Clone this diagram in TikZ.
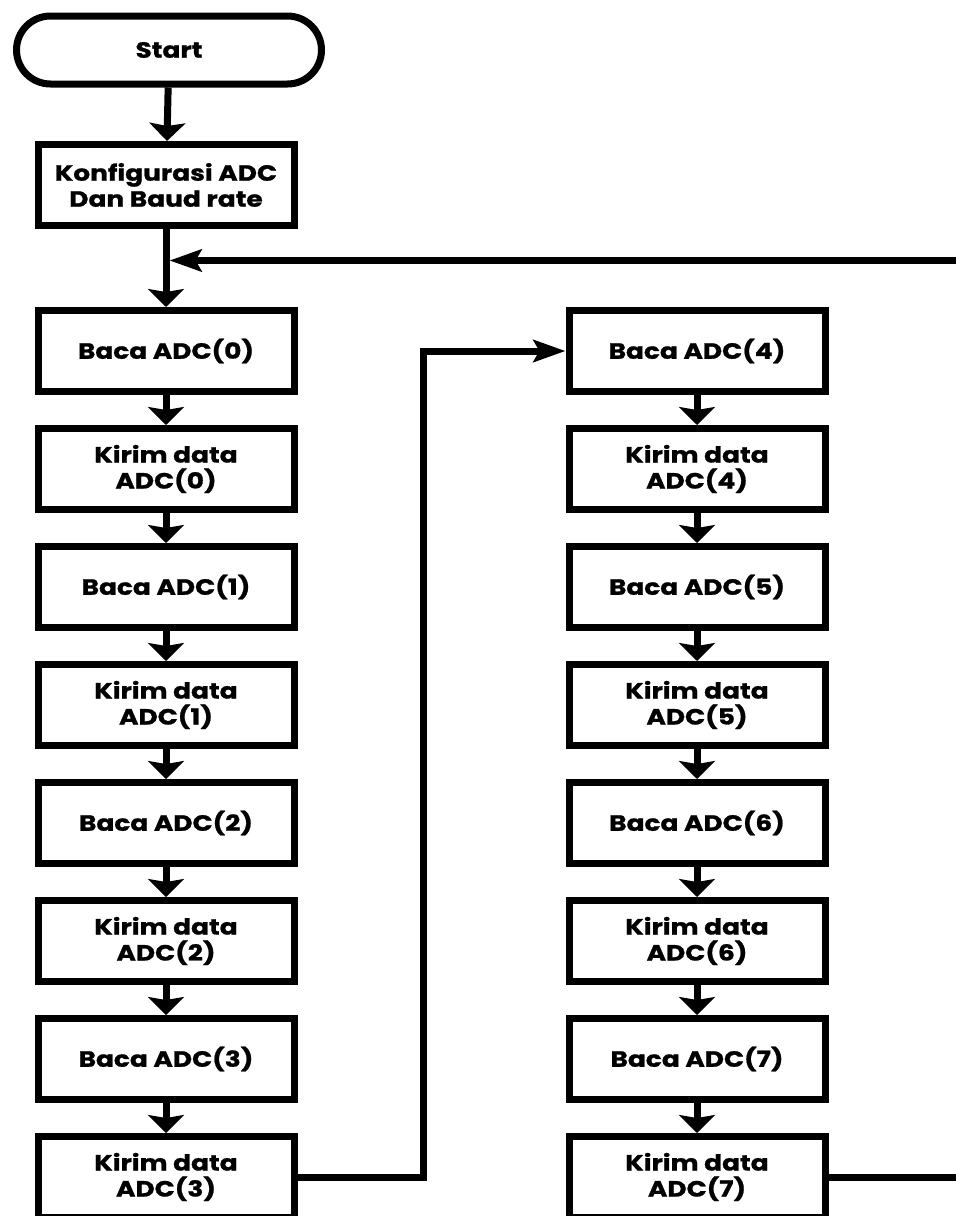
\documentclass[tikz,border=0pt]{standalone}
\usepackage{fontspec}
\setmainfont{Poppins}[FakeStretch=1.2, BoldFeatures={FakeBold=1}]
\usetikzlibrary{arrows.meta,shapes.misc,positioning}
\begin{document}
\begin{tikzpicture}[x=1pt, y=-1pt, line width=7pt,
  box/.style={draw, rectangle, minimum width=256pt, minimum height=81pt, inner sep=0pt, align=center, font=\bfseries\fontsize{22}{26}\selectfont},
  term/.style={draw, rounded rectangle, minimum width=305pt, minimum height=68pt, inner sep=0pt, font=\bfseries\fontsize{22}{26}\selectfont},
  flow/.style={-{Stealth[width=36pt, length=18pt, inset=3pt]}},
  flowin/.style={-{Stealth[width=22pt, length=32pt, inset=6pt]}}]
\useasboundingbox (0,0) rectangle (956,1216);
\node[term] (start) at (169,50) {Start};
\node[box] (konf) at (166,185) {Konfigurasi ADC\\Dan Baud rate};
\foreach \i in {0,...,3}
{
    \node[box] (b\i) at (166,{351+236*\i}) {Baca ADC(\i)};
    \node[box] (k\i) at (166,{469+236*\i}) {Kirim data\\ADC(\i)};
}
\foreach \i in {4,...,7}
{
    \node[box] (b\i) at (697,{351+236*(\i-4)}) {Baca ADC(\i)};
    \node[box] (k\i) at (697,{469+236*(\i-4)}) {Kirim data\\ADC(\i)};
}
\coordinate (merge) at ([yshift=-31.5pt, xshift=3.5pt]konf.south);
\draw[flow] (start) -- (konf);
\draw[flow] (konf) -- (b0);
\foreach \i in {0,...,7}
{
    \draw[flow] (b\i) -- (k\i);
}
\foreach \i/\j in {0/1, 1/2, 2/3, 4/5, 5/6, 6/7}
{
    \draw[flow] (k\i) -- (b\j);
}
\draw[flowin] (k3.east) -- ++(126,0) |- (b4.west);
\draw[flowin] (k7.east) -- ++(200,0) |- (merge);
\end{tikzpicture}
\end{document}
